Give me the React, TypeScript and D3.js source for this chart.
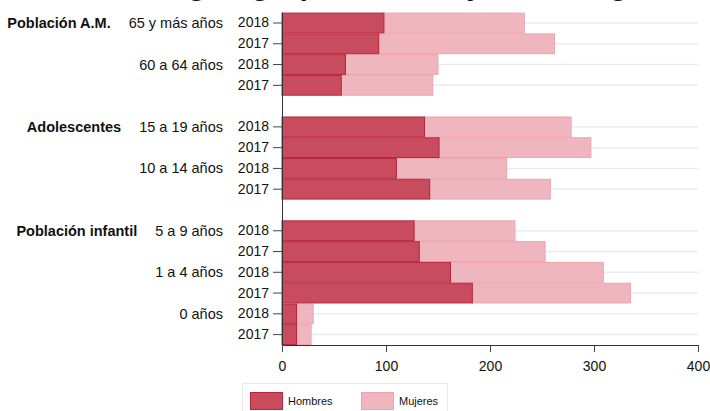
import { useEffect, useRef } from "react";
import * as d3 from "d3";

const groups = ["Población A.M.", "Adolescentes", "Población infantil"];
const ageGroups = [
  ["65 y más años", "60 a 64 años"],
  ["15 a 19 años", "10 a 14 años"],
  ["5 a 9 años", "1 a 4 años", "0 años"],
];
const years = ["2018", "2017"];
// row order: top to bottom
const hombres = [98, 93, 61, 57, 137, 151, 110, 142, 127, 132, 162, 183, 14, 14];
const mujeres = [135, 169, 89, 88, 141, 146, 106, 116, 97, 121, 147, 152, 16, 14];
const xTicks = [0, 100, 200, 300, 400];
const seriesNames = ["Hombres", "Mujeres"];

const title = "Consultas según grupo de edad y sexo, según año";

const W = 710;
const H = 411;
const FONT = "'Liberation Sans', Arial, sans-serif";
const C_H = "#c84c5d";
const C_H_STROKE = "#b8243c";
const C_M = "#f0b6c0";
const C_M_STROKE = "#eca4b1";

interface Row {
  key: string;
  group: number;
  age: string;
  year: string;
  firstOfAge: boolean;
  firstOfGroup: boolean;
  h: number;
  m: number;
}

const App = () => {
  const ref = useRef<SVGSVGElement | null>(null);

  useEffect(() => {
    document.body.style.margin = "0";
    if (!ref.current) return;
    const svg = d3.select(ref.current);
    svg.selectAll("*").remove();

    // build rows + gap slots
    const rows: Row[] = [];
    const domain: string[] = [];
    let i = 0;
    ageGroups.forEach((ages, gi) => {
      ages.forEach((age, ai) => {
        years.forEach((year, yi) => {
          const key = `${age}|${year}`;
          rows.push({
            key,
            group: gi,
            age,
            year,
            firstOfAge: yi === 0,
            firstOfGroup: ai === 0 && yi === 0,
            h: hombres[i],
            m: mujeres[i],
          });
          domain.push(key);
          i++;
        });
      });
      if (gi < ageGroups.length - 1) domain.push(`gap${gi}`);
    });

    const x = d3.scaleLinear().domain([0, 400]).range([282, 698]);
    const y = d3.scaleBand<string>().domain(domain).range([12.6, 345]).paddingInner(0);
    const bw = y.bandwidth();

    // title (mostly above the visible area, only descenders show)
    const t = svg
      .append("text")
      .attr("x", 0)
      .attr("y", -5)
      .attr("font-family", FONT)
      .attr("font-weight", "bold")
      .attr("font-size", 30)
      .attr("fill", "#111")
      .text(title);
    const gIdx = title.indexOf("según") + 2;
    const node = t.node() as SVGTextElement;
    try {
      const pos = node.getStartPositionOfChar(gIdx).x;
      const ext = node.getExtentOfChar(gIdx).width;
      t.attr("x", 197 - (pos + ext / 2));
    } catch (e) {
      t.attr("x", 40);
    }

    // gridlines
    svg
      .append("g")
      .selectAll("line")
      .data(rows)
      .enter()
      .append("line")
      .attr("x1", x(0))
      .attr("x2", x(400))
      .attr("y1", d => (y(d.key) ?? 0) + bw / 2)
      .attr("y2", d => (y(d.key) ?? 0) + bw / 2)
      .attr("stroke", "#e7edf0")
      .attr("stroke-width", 1.5);

    // bars
    const bars = svg.append("g");
    bars
      .selectAll("rect.m")
      .data(rows)
      .enter()
      .append("rect")
      .attr("class", "m")
      .attr("x", d => x(d.h))
      .attr("y", d => (y(d.key) ?? 0) + 0.5)
      .attr("width", d => x(d.h + d.m) - x(d.h))
      .attr("height", bw - 1)
      .attr("fill", C_M)
      .attr("stroke", C_M_STROKE)
      .attr("stroke-width", 1);
    bars
      .selectAll("rect.h")
      .data(rows)
      .enter()
      .append("rect")
      .attr("class", "h")
      .attr("x", x(0))
      .attr("y", d => (y(d.key) ?? 0) + 0.5)
      .attr("width", d => x(d.h) - x(0))
      .attr("height", bw - 1)
      .attr("fill", C_H)
      .attr("stroke", C_H_STROKE)
      .attr("stroke-width", 1);

    // y axis
    const yAxis = d3
      .axisLeft(y)
      .tickValues(rows.map(r => r.key))
      .tickFormat(k => k.split("|")[1])
      .tickSize(9)
      .tickSizeOuter(0)
      .tickPadding(4);
    const ya = svg.append("g").attr("transform", `translate(${x(0)},0)`).call(yAxis);
    ya.select(".domain").attr("stroke", "#333").attr("d", `M0.5,${y.range()[0]}V${y.range()[1]}`);
    ya.selectAll(".tick line").attr("stroke", "#444");
    ya.selectAll("text").attr("font-family", FONT).attr("font-size", 14).attr("fill", "#111");

    // age labels + group labels
    const labels = svg.append("g").attr("font-family", FONT).attr("font-size", 14.5).attr("fill", "#111");
    rows
      .filter(r => r.firstOfAge)
      .forEach(r => {
        const cy = (y(r.key) ?? 0) + bw / 2;
        const at = labels
          .append("text")
          .attr("x", 223)
          .attr("y", cy)
          .attr("dy", "0.35em")
          .attr("text-anchor", "end")
          .text(r.age);
        if (r.firstOfGroup) {
          const bb = (at.node() as SVGTextElement).getBBox();
          labels
            .append("text")
            .attr("x", bb.x - 18)
            .attr("y", cy)
            .attr("dy", "0.35em")
            .attr("text-anchor", "end")
            .attr("font-weight", "bold")
            .text(groups[r.group]);
        }
      });

    // x axis
    const xAxis = d3.axisBottom(x).tickValues(xTicks).tickSize(7).tickSizeOuter(0).tickPadding(9);
    const xa = svg.append("g").attr("transform", `translate(0,${y.range()[1]})`).call(xAxis);
    xa.select(".domain").attr("stroke", "#333");
    xa.selectAll(".tick line").attr("stroke", "#444");
    xa.selectAll("text").attr("font-family", FONT).attr("font-size", 14).attr("fill", "#111");

    // legend
    const lg = svg.append("g");
    lg.append("rect")
      .attr("x", 242.5)
      .attr("y", 383.5)
      .attr("width", 205)
      .attr("height", 40)
      .attr("fill", "none")
      .attr("stroke", "#e8e8e8");
    const lx = [250, 361];
    seriesNames.forEach((name, si) => {
      lg.append("rect")
        .attr("x", lx[si] + 0.5)
        .attr("y", 392.5)
        .attr("width", 32)
        .attr("height", 17)
        .attr("fill", si === 0 ? C_H : C_M)
        .attr("stroke", si === 0 ? C_H_STROKE : C_M_STROKE);
      lg.append("text")
        .attr("x", lx[si] + 38)
        .attr("y", 401)
        .attr("dy", "0.35em")
        .attr("font-family", FONT)
        .attr("font-size", 11)
        .attr("fill", "#111")
        .text(name);
    });
  }, []);

  return <svg ref={ref} width={W} height={H} style={{ display: "block" }} />;
};

export default App;
